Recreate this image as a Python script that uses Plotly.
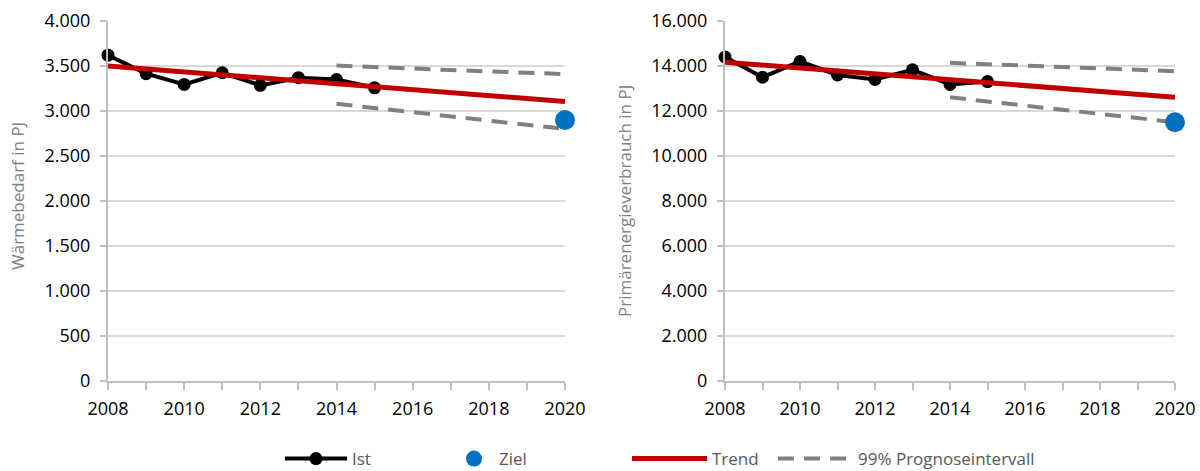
import plotly.graph_objects as go

# ---------------- data ----------------
ist_years = [2008, 2009, 2010, 2011, 2012, 2013, 2014, 2015]
ist_waerme = [3620, 3415, 3295, 3425, 3285, 3370, 3350, 3258]
ist_primaer = [14400, 13500, 14200, 13600, 13400, 13830, 13180, 13310]

trend_years = [2008, 2020]
trend_waerme = [3500, 3105]
trend_primaer = [14170, 12610]

pi_years = [2014, 2015, 2016, 2017, 2018, 2019, 2020]
pi_upper_waerme = [3505, 3485, 3470, 3455, 3440, 3425, 3410]
pi_lower_waerme = [3080, 3035, 2990, 2945, 2895, 2850, 2800]
pi_upper_primaer = [14140, 14075, 14010, 13945, 13880, 13825, 13770]
pi_lower_primaer = [12610, 12430, 12240, 12050, 11860, 11680, 11500]

ziel_years = [2020]
ziel_waerme = [2900]
ziel_primaer = [11500]

x_tickvals = [2008, 2010, 2012, 2014, 2016, 2018, 2020]
waerme_ticks = [0, 500, 1000, 1500, 2000, 2500, 3000, 3500, 4000]
primaer_ticks = [0, 2000, 4000, 6000, 8000, 10000, 12000, 14000, 16000]

# ---------------- styles ----------------
BLACK = "#000000"
RED = "#C00000"
GRAY_DASH = "#808080"
BLUE = "#0070C0"
GRID = "#D9D9D9"
AXIS = "#BFBFBF"
FONT = "Open Sans"
DASH = "16px,10px"

fig = go.Figure()

def add_panel(xa, ya, ist, trend, up, lo, ziel, show):
    fig.add_trace(go.Scatter(x=pi_years, y=up, mode="lines", name="99% Prognoseintervall",
                             line=dict(color=GRAY_DASH, width=4, dash=DASH),
                             xaxis=xa, yaxis=ya, showlegend=show, legend="legend4",
                             legendgroup="pi", cliponaxis=False))
    fig.add_trace(go.Scatter(x=pi_years, y=lo, mode="lines", name="99% Prognoseintervall",
                             line=dict(color=GRAY_DASH, width=4, dash=DASH),
                             xaxis=xa, yaxis=ya, showlegend=False, legend="legend4",
                             legendgroup="pi", cliponaxis=False))
    fig.add_trace(go.Scatter(x=ist_years, y=ist, mode="lines+markers", name="Ist",
                             line=dict(color=BLACK, width=4),
                             marker=dict(color=BLACK, size=13),
                             xaxis=xa, yaxis=ya, showlegend=show, legend="legend",
                             legendgroup="ist", cliponaxis=False))
    fig.add_trace(go.Scatter(x=trend_years, y=trend, mode="lines", name="Trend",
                             line=dict(color=RED, width=5),
                             xaxis=xa, yaxis=ya, showlegend=show, legend="legend3",
                             legendgroup="trend", cliponaxis=False))
    fig.add_trace(go.Scatter(x=ziel_years, y=ziel, mode="markers", name="Ziel",
                             marker=dict(color=BLUE, size=20),
                             xaxis=xa, yaxis=ya, showlegend=show, legend="legend2",
                             legendgroup="ziel", cliponaxis=False))

add_panel("x", "y", ist_waerme, trend_waerme, pi_upper_waerme, pi_lower_waerme, ziel_waerme, True)
add_panel("x2", "y2", ist_primaer, trend_primaer, pi_upper_primaer, pi_lower_primaer, ziel_primaer, False)

W, H = 1200, 471
def px_x(p):
    return p / W
def px_y(p):
    return 1 - p / H

xaxis_common = dict(range=[2008, 2020], tickvals=x_tickvals, ticks="outside", ticklen=7,
                    tickwidth=2, tickcolor=AXIS, showline=True, linecolor=AXIS, linewidth=2,
                    showgrid=False, zeroline=False, automargin=False, ticklabelstandoff=3,
                    tickfont=dict(family=FONT, size=18, color="#000000"),
                    minor=dict(dtick=1, tick0=2008, ticks="outside", ticklen=7, tickwidth=2,
                               tickcolor=AXIS, showgrid=False))
yaxis_common = dict(ticks="outside", ticklen=6, tickwidth=2, tickcolor=AXIS,
                    showline=True, linecolor=AXIS, linewidth=2,
                    showgrid=True, gridcolor=GRID, gridwidth=2, zeroline=False,
                    automargin=False, tickformat=",.0f", ticklabelstandoff=6,
                    tickfont=dict(family=FONT, size=18, color="#000000"))

def legend_at(x_px, itemwidth):
    return dict(orientation="h", x=px_x(x_px), xanchor="left", y=px_y(459), yanchor="middle",
                font=dict(family=FONT, size=17, color="#595959"),
                itemwidth=itemwidth, bgcolor="rgba(0,0,0,0)")

y_dom = [px_y(381), px_y(21)]
fig.update_layout(
    width=W, height=H,
    template="none",
    separators=",.",
    paper_bgcolor="white", plot_bgcolor="white",
    margin=dict(l=0, r=0, t=0, b=0, pad=0, autoexpand=False),
    xaxis=dict(domain=[px_x(108), px_x(565)], anchor="y", **xaxis_common),
    yaxis=dict(domain=y_dom, anchor="x", range=[0, 4000], tickvals=waerme_ticks, **yaxis_common),
    xaxis2=dict(domain=[px_x(725), px_x(1175)], anchor="y2", **xaxis_common),
    yaxis2=dict(domain=y_dom, anchor="x2", range=[0, 16000], tickvals=primaer_ticks, **yaxis_common),
    showlegend=True,
    legend=legend_at(280, 62),
    legend2=legend_at(449, 40),
    legend3=legend_at(627, 75),
    legend4=legend_at(773, 75),
    annotations=[
        dict(text="Wärmebedarf in PJ", x=px_x(17), y=px_y(196), xref="paper", yref="paper",
             textangle=-90, showarrow=False, xanchor="center", yanchor="middle",
             font=dict(family=FONT, size=17, color="#808080")),
        dict(text="Primärenergieverbrauch in PJ", x=px_x(624), y=px_y(201), xref="paper", yref="paper",
             textangle=-90, showarrow=False, xanchor="center", yanchor="middle",
             font=dict(family=FONT, size=17, color="#808080")),
    ],
)

fig.write_html("out.html", config={"displayModeBar": False},
               post_script="document.body.style.margin='0';")
